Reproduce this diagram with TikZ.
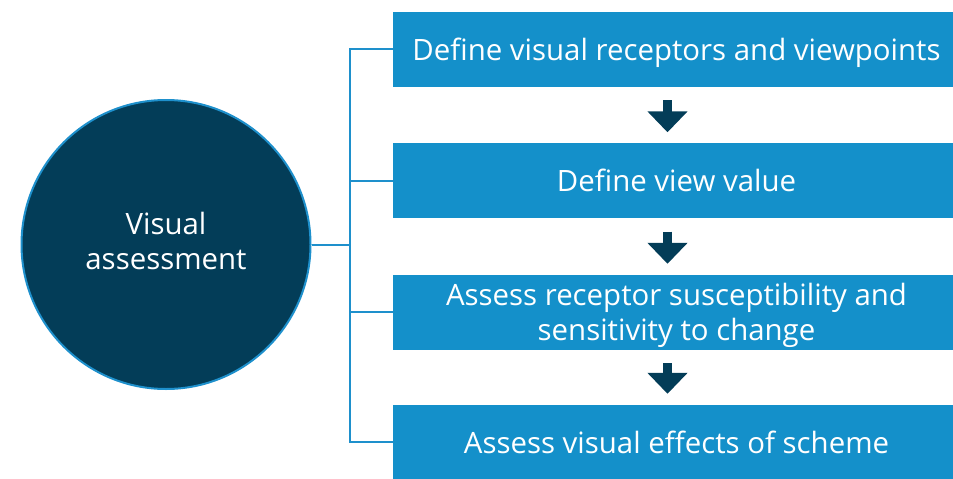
\documentclass[tikz,border=0pt]{standalone}
\usepackage{fontspec}
\setmainfont{Open Sans}
\usetikzlibrary{arrows.meta}
\definecolor{boxblue}{RGB}{20,144,202}
\definecolor{navy}{RGB}{3,61,88}
\definecolor{linkblue}{RGB}{30,144,204}
\tikzset{
  stepbox/.style={fill=boxblue, text=white, minimum width=567pt, minimum height=75pt,
    inner sep=0pt, align=center, text depth=0pt, font=\fontsize{29.4}{35}\selectfont},
  hub/.style={circle, fill=navy, draw=linkblue, line width=2pt, minimum size=289pt,
    inner sep=0pt, text=white, align=center, text depth=8pt, font=\fontsize{29.4}{35}\selectfont},
  conn/.style={draw=linkblue, line width=2pt},
  flow/.style={navy, line width=9.5pt, -{Triangle[width=39pt,length=21pt]},
    shorten <=13.5pt, shorten >=10.5pt}
}
\begin{document}
\begin{tikzpicture}[x=1pt,y=-1pt]
\useasboundingbox (0,0) rectangle (953,479);
\node[hub] (c) at (166,244.5) {Visual\\assessment};
\node[stepbox] (b1) at (676.5,49) {Define visual receptors and viewpoints};
\node[stepbox] (b2) at (676.5,180.5) {Define view value};
\node[stepbox] (b3) at (676.5,312) {Assess receptor susceptibility and\\sensitivity to change};
\node[stepbox] (b4) at (676.5,442) {Assess visual effects of scheme};
\coordinate (t) at (350,0);
\draw[conn] (b1.west) -- (b1.west -| t) -- (b4.west -| t) -- (b4.west);
\draw[conn] (b2.west) -- (b2.west -| t);
\draw[conn] (b3.west) -- (b3.west -| t);
\draw[conn] (c.east) -- (c.east -| t);
\draw[flow] ([xshift=-9pt]b1.south) -- ([xshift=-9pt]b2.north);
\draw[flow] ([xshift=-9pt]b2.south) -- ([xshift=-9pt]b3.north);
\draw[flow] ([xshift=-9pt]b3.south) -- ([xshift=-9pt]b4.north);
\end{tikzpicture}
\end{document}
